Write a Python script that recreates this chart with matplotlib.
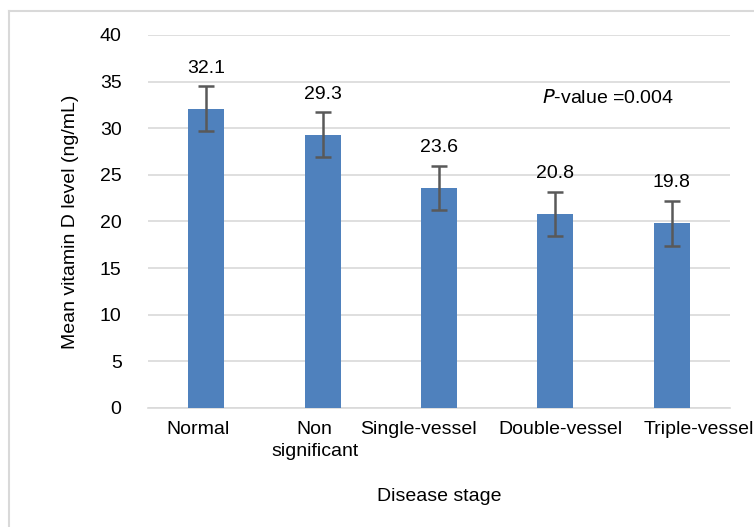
import numpy as np
import matplotlib.pyplot as plt
import matplotlib.transforms as mtransforms
from matplotlib.lines import Line2D

plt.rcParams['font.family'] = ['Liberation Sans', 'DejaVu Sans']

stages = ['Normal', 'Non\nsignificant', 'Single-vessel', 'Double-vessel', 'Triple-vessel']
means = [32.1, 29.3, 23.6, 20.8, 19.8]
errors = [2.4, 2.4, 2.4, 2.4, 2.4]
value_labels = ['32.1', '29.3', '23.6', '20.8', '19.8']

fs = 14
fig = plt.figure(figsize=(7.54, 5.27), dpi=100)
W, H = 754, 527
ax = fig.add_axes([148 / W, 1 - 408 / H, (730 - 148) / W, (408 - 35) / H])

x = np.arange(len(stages))
ax.bar(x, means, width=0.31, color='#4F81BD', zorder=3,
       yerr=errors, error_kw=dict(ecolor='#595959', elinewidth=1.8, capsize=5.5, capthick=1.8, zorder=4))

for xi, m, e, lab in zip(x, means, errors, value_labels):
    ax.annotate(lab, (xi, m + e), xytext=(0, 7), textcoords='offset points',
                ha='center', va='bottom', fontsize=fs)

ax.set_xlim(-0.5, len(stages) - 0.5)
ax.set_ylim(0, 40)
ax.set_yticks(range(0, 41, 5))
ax.set_xticks(x)
ax.set_xticklabels(stages, fontsize=fs, linespacing=1.45)
ax.tick_params(axis='y', labelsize=fs, length=0, pad=19)
ax.tick_params(axis='x', length=0, pad=9)

# excel spreads the category labels out so they don't collide
shifts = [-8, -8, -21, 5, 27]
for lab, dx in zip(ax.get_xticklabels(), shifts):
    lab.set_transform(lab.get_transform() + mtransforms.ScaledTranslation(dx / 100, 0, fig.dpi_scale_trans))

ax.grid(axis='y', color='#D9D9D9', linewidth=1.2, zorder=0)
for s in ['top', 'right', 'left']:
    ax.spines[s].set_visible(False)
ax.spines['bottom'].set_color('#D9D9D9')
ax.spines['bottom'].set_linewidth(1.2)

ax.set_ylabel('Mean vitamin D level (ng/mL)', fontsize=fs, labelpad=15)
ax.set_xlabel('Disease stage', fontsize=fs, labelpad=20)

ax.text(0.79, 0.83, r'$\it{P}$-value =0.004', transform=ax.transAxes,
        ha='center', va='center', fontsize=fs)

# outer frame (left and top edges)
fig.add_artist(Line2D([9 / W, 9 / W], [0, 1 - 11 / H], color='#D9D9D9', lw=1.5))
fig.add_artist(Line2D([9 / W, 1], [1 - 11 / H, 1 - 11 / H], color='#D9D9D9', lw=1.5))

plt.savefig('out.png', dpi=100)
